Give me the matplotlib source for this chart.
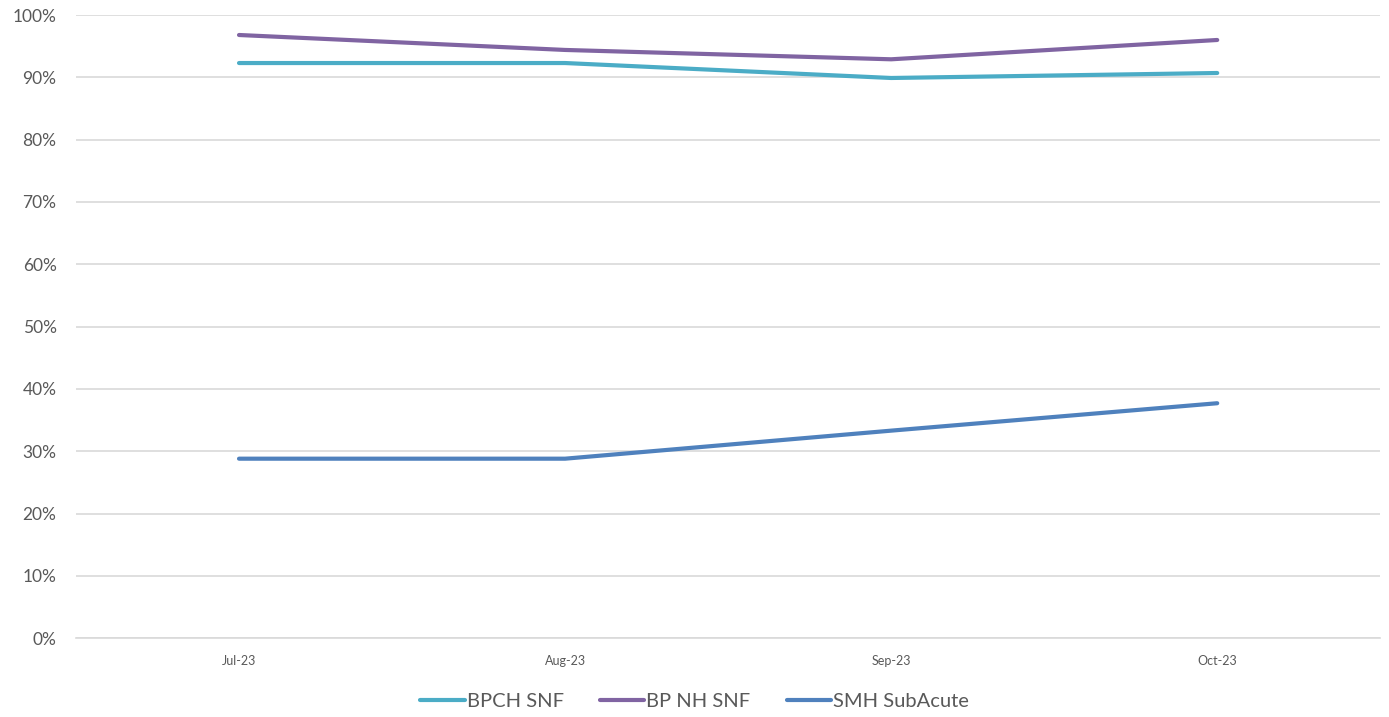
import matplotlib
matplotlib.use("Agg")
import matplotlib.pyplot as plt
from matplotlib.ticker import PercentFormatter, MultipleLocator

months = ["Jul-23", "Aug-23", "Sep-23", "Oct-23"]
bpch_snf = [92.3, 92.3, 89.9, 90.7]
bp_nh_snf = [96.8, 94.4, 92.9, 96.0]
smh_subacute = [28.8, 28.8, 33.3, 37.7]

series_names = ["BPCH SNF", "BP NH SNF", "SMH SubAcute"]
colors = ["#4BACC6", "#8064A2", "#4F81BD"]

plt.rcParams['font.family'] = ['Lato', 'DejaVu Sans']

fig = plt.figure(figsize=(13.89, 7.17), dpi=100)
ax = fig.add_axes([0.0547, 0.110, 0.939, 0.869])

x = list(range(len(months)))
for vals, name, c in zip([bpch_snf, bp_nh_snf, smh_subacute], series_names, colors):
    ax.plot(x, vals, color=c, linewidth=3, label=name, solid_capstyle='round')

ax.set_xlim(-0.5, len(months) - 0.5)
ax.set_ylim(0, 100)
ax.yaxis.set_major_locator(MultipleLocator(10))
ax.yaxis.set_major_formatter(PercentFormatter(decimals=0))
ax.set_xticks(x)
ax.set_xticklabels(months)
ax.grid(axis='y', color='#D9D9D9', linewidth=1.2)
ax.set_axisbelow(True)
for s in ['top', 'right', 'left']:
    ax.spines[s].set_visible(False)
ax.spines['bottom'].set_color('#D9D9D9')
ax.spines['bottom'].set_linewidth(1.2)
ax.tick_params(axis='y', length=0, labelsize=12.5, labelcolor='#595959', pad=14)
ax.tick_params(axis='x', length=0, labelsize=9, labelcolor='#595959', pad=12)

fig.legend(loc='lower center', bbox_to_anchor=(0.5, -0.016), ncol=3, frameon=False,
           fontsize=14.5, labelcolor='#595959', handlelength=2.2, handletextpad=0.1,
           columnspacing=1.8)

fig.savefig("out.png", dpi=100)
